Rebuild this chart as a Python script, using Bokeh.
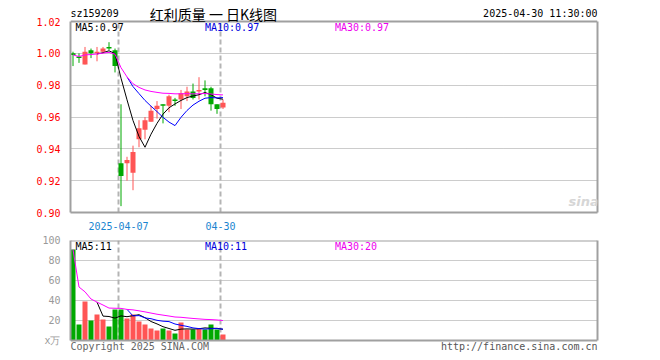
import pandas as pd
from bokeh.plotting import figure
from bokeh.models import (Range1d, FixedTicker, Label, PrintfTickFormatter,
                          ColumnDataSource, LinearAxis, Span)
from bokeh.layouts import column
from bokeh.embed import file_html
from bokeh.resources import INLINE

# ---------------- data ----------------
dates = ["2025-03-25", "2025-03-26", "2025-03-27", "2025-03-28", "2025-03-31",
         "2025-04-01", "2025-04-02", "2025-04-03", "2025-04-07", "2025-04-08",
         "2025-04-09", "2025-04-10", "2025-04-11", "2025-04-14", "2025-04-15",
         "2025-04-16", "2025-04-17", "2025-04-18", "2025-04-21", "2025-04-22",
         "2025-04-23", "2025-04-24", "2025-04-25", "2025-04-28", "2025-04-29",
         "2025-04-30"]
opens = [1.000, 0.998, 0.993, 1.002, 1.000, 1.001, 1.004, 1.002, 0.931, 0.931,
         0.925, 0.946, 0.952, 0.957, 0.965, 0.968, 0.967, 0.971, 0.971, 0.973,
         0.976, 0.976, 0.978, 0.978, 0.968, 0.966]
highs = [1.001, 1.000, 1.004, 1.003, 1.004, 1.004, 1.007, 1.003, 0.968, 0.935,
         0.942, 0.958, 0.960, 0.967, 0.970, 0.968, 0.974, 0.972, 0.977, 0.979,
         0.981, 0.985, 0.983, 0.979, 0.968, 0.971]
lows = [0.992, 0.994, 0.993, 0.997, 0.995, 1.000, 1.002, 0.988, 0.904, 0.920,
        0.914, 0.941, 0.946, 0.957, 0.959, 0.956, 0.963, 0.967, 0.965, 0.970,
        0.971, 0.971, 0.973, 0.964, 0.962, 0.965]
closes = [0.999, 0.997, 1.001, 1.000, 1.001, 1.003, 1.003, 0.992, 0.923, 0.933,
          0.938, 0.953, 0.958, 0.964, 0.967, 0.967, 0.973, 0.970, 0.975, 0.976,
          0.972, 0.977, 0.977, 0.968, 0.965, 0.969]
volumes = [91, 16, 39, 20, 26, 21, 14, 31, 31, 22, 26, 19, 16, 12, 10, 12, 10, 7,
           18, 11, 11, 12, 11, 16, 11, 6]

price_ticks = [0.90, 0.92, 0.94, 0.96, 0.98, 1.00, 1.02]
vol_ticks = [0, 20, 40, 60, 80, 100]
marked_dates = ["2025-04-07", "2025-04-30"]
marked_labels = ["2025-04-07", "04-30"]

code = "sz159209"
title_text = "红利质量 一 日K线图"
stamp = "2025-04-30 11:30:00"
footer_left = "Copyright 2025 SINA.COM"
footer_right = "http://finance.sina.com.cn"

# ---------------- derived ----------------
RED = "#ff5555"
GREEN = "#00a800"
BORDER = "#a0a0a0"
MONO = "DejaVu Sans Mono"
BAR_W = 5 / 6.0

x = list(range(len(dates)))
colors = [RED if c >= o else GREEN for o, c in zip(opens, closes)]
cs = pd.Series(closes)
vs = pd.Series(volumes, dtype=float)
ma5 = cs.rolling(5).mean()
ma10 = cs.rolling(10).mean()
ma30 = cs.rolling(30, min_periods=1).mean()
vma5 = vs.rolling(5).mean()
vma10 = vs.rolling(10).mean()
vma30 = vs.rolling(30, min_periods=1).mean()

src = ColumnDataSource(dict(
    x=x, o=opens, h=highs, l=lows, c=closes, v=volumes, color=colors,
    top=[max(a, b) for a, b in zip(opens, closes)],
    bot=[min(a, b) for a, b in zip(opens, closes)],
    ma5=ma5, ma10=ma10, ma30=ma30, vma5=vma5, vma10=vma10, vma30=vma30,
))

# dashed marker lines sit on the left edge of the marked day's slot
tick_pos = [dates.index(d) - BAR_W / 2 for d in marked_dates]
X0 = -BAR_W / 2
X1 = X0 + 527 / 6.0

# price panel: plot box 191 px for 0.90..1.02, header strip of 21 px above it
PPU = 191 / (price_ticks[-1] - price_ticks[0])
P_TOP = price_ticks[-1] + 21 / PPU


def base_style(p):
    p.outline_line_color = None
    p.background_fill_color = "white"
    p.border_fill_color = "white"
    p.xgrid.visible = False
    for ax in (p.xaxis, p.yaxis):
        ax.major_tick_line_color = None
        ax.minor_tick_line_color = None
        ax.major_label_text_font = MONO
        ax.major_label_text_font_size = "10px"
    p.yaxis.axis_line_color = BORDER
    p.yaxis.axis_line_width = 2
    p.ygrid.grid_line_color = "#999999"
    p.ygrid.grid_line_dash = "1 1"


def right_border(p, lo, hi):
    ax = LinearAxis(bounds=(lo, hi), ticker=FixedTicker(ticks=[]),
                    axis_line_color=BORDER, axis_line_width=2,
                    major_tick_line_color=None, minor_tick_line_color=None)
    p.add_layout(ax, "right")


# ---------------- price panel ----------------
p1 = figure(width=660, height=232, x_range=Range1d(X0, X1),
            y_range=Range1d(price_ticks[0], P_TOP), output_backend="svg",
            toolbar_location=None, title=None,
            min_border_left=70, min_border_right=63, min_border_top=0,
            min_border_bottom=20)
base_style(p1)
p1.yaxis.bounds = (price_ticks[0], price_ticks[-1])
p1.yaxis.ticker = FixedTicker(ticks=price_ticks)
p1.ygrid.ticker = FixedTicker(ticks=price_ticks[1:-1])
p1.yaxis.formatter = PrintfTickFormatter(format="%.2f")
p1.yaxis.major_label_text_color = "#ff0000"
p1.yaxis.major_label_standoff = 4
p1.xaxis.ticker = FixedTicker(ticks=tick_pos)
p1.xaxis.major_label_overrides = {t: lab for t, lab in zip(tick_pos, marked_labels)}
p1.xaxis.major_label_text_color = "#1a85d0"
p1.xaxis.major_label_standoff = 3
p1.xaxis.axis_line_color = BORDER
p1.xaxis.axis_line_width = 2
right_border(p1, price_ticks[0], price_ticks[-1])
p1.add_layout(Span(location=price_ticks[-1], dimension="width",
                   line_color=BORDER, line_width=2))

p1.segment(x0=tick_pos, y0=[price_ticks[0]] * len(tick_pos), x1=tick_pos,
           y1=[price_ticks[-1]] * len(tick_pos), line_color="#b4b4b4",
           line_width=2, line_dash="5 3")
p1.segment(x0="x", y0="l", x1="x", y1="h", color="color", line_width=1, source=src)
p1.vbar(x="x", width=BAR_W, top="top", bottom="bot", fill_color="color",
        line_color=None, source=src)
p1.line("x", "ma5", color="black", line_width=1, source=src)
p1.line("x", "ma10", color="#0000ff", line_width=1, source=src)
p1.line("x", "ma30", color="#ff00ff", line_width=1, source=src)

yhead = price_ticks[-1] + 8 / PPU
p1.add_layout(Label(x=X0, y=yhead, text=code, text_font=MONO, text_font_size="10px",
                    text_color="black", text_baseline="middle"))
p1.add_layout(Label(x=23.4, y=yhead, text=title_text, text_font="Noto Sans CJK SC",
                    text_font_size="14px", text_color="black", text_baseline="middle",
                    text_align="center"))
p1.add_layout(Label(x=X1, y=yhead, text=stamp, text_font=MONO, text_font_size="10px",
                    text_color="black", text_baseline="middle", text_align="right"))

yma = price_ticks[-1] - 5.5 / PPU
for xx, name, ser, col in [(0.43, "MA5", ma5, "black"), (22.0, "MA10", ma10, "#0000dd"),
                           (43.65, "MA30", ma30, "#ee00ee")]:
    p1.add_layout(Label(x=xx, y=yma, text=f"{name}:{ser.iloc[-1]:.2f}", text_font=MONO,
                        text_font_size="10px", text_color=col, text_baseline="middle"))

p1.add_layout(Label(x=85.1, y=price_ticks[0] + 11 / PPU, text="sina",
                    text_font="DejaVu Sans", text_font_style="bold italic",
                    text_font_size="13px", text_color="#d6d6d6",
                    text_baseline="middle", text_align="center"))

# ---------------- volume panel ----------------
p2 = figure(width=660, height=128, x_range=p1.x_range, y_range=Range1d(-20, 100),
            output_backend="svg", toolbar_location=None, title=None,
            min_border_left=70, min_border_right=63, min_border_top=8,
            min_border_bottom=0)
base_style(p2)
p2.xaxis.visible = False
p2.yaxis.bounds = (vol_ticks[0], vol_ticks[-1])
p2.yaxis.ticker = FixedTicker(ticks=vol_ticks)
p2.ygrid.ticker = FixedTicker(ticks=vol_ticks[1:-1])
p2.yaxis.major_label_overrides = {0: "x万"}
p2.yaxis.major_label_text_color = "#999999"
p2.yaxis.major_label_standoff = 4
right_border(p2, vol_ticks[0], vol_ticks[-1])
for loc in (vol_ticks[0], vol_ticks[-1]):
    p2.add_layout(Span(location=loc, dimension="width", line_color=BORDER, line_width=2))

p2.segment(x0=tick_pos, y0=[vol_ticks[0]] * len(tick_pos), x1=tick_pos,
           y1=[vol_ticks[-1]] * len(tick_pos), line_color="#b4b4b4",
           line_width=2, line_dash="5 3")
p2.vbar(x="x", width=BAR_W, top="v", bottom=0, fill_color="color", line_color=None,
        source=src)
p2.line("x", "vma5", color="black", line_width=1, source=src)
p2.line("x", "vma10", color="#0000ff", line_width=1, source=src)
p2.line("x", "vma30", color="#ff00ff", line_width=1, source=src)

yv = 94
for xx, name, ser, col in [(0.43, "MA5", vma5, "black"), (22.0, "MA10", vma10, "#0000dd"),
                           (43.65, "MA30", vma30, "#ee00ee")]:
    p2.add_layout(Label(x=xx, y=yv, text=f"{name}:{ser.iloc[-1]:.0f}", text_font=MONO,
                        text_font_size="10px", text_color=col, text_baseline="middle"))

p2.add_layout(Label(x=X0, y=-6, text=footer_left, text_font=MONO,
                    text_font_size="10px", text_color="#666666", text_baseline="middle"))
p2.add_layout(Label(x=X1, y=-6, text=footer_right, text_font=MONO,
                    text_font_size="10px", text_color="#555555", text_baseline="middle",
                    text_align="right"))

layout = column(p1, p2, spacing=0)
open("out.html", "w").write(file_html(layout, INLINE))
